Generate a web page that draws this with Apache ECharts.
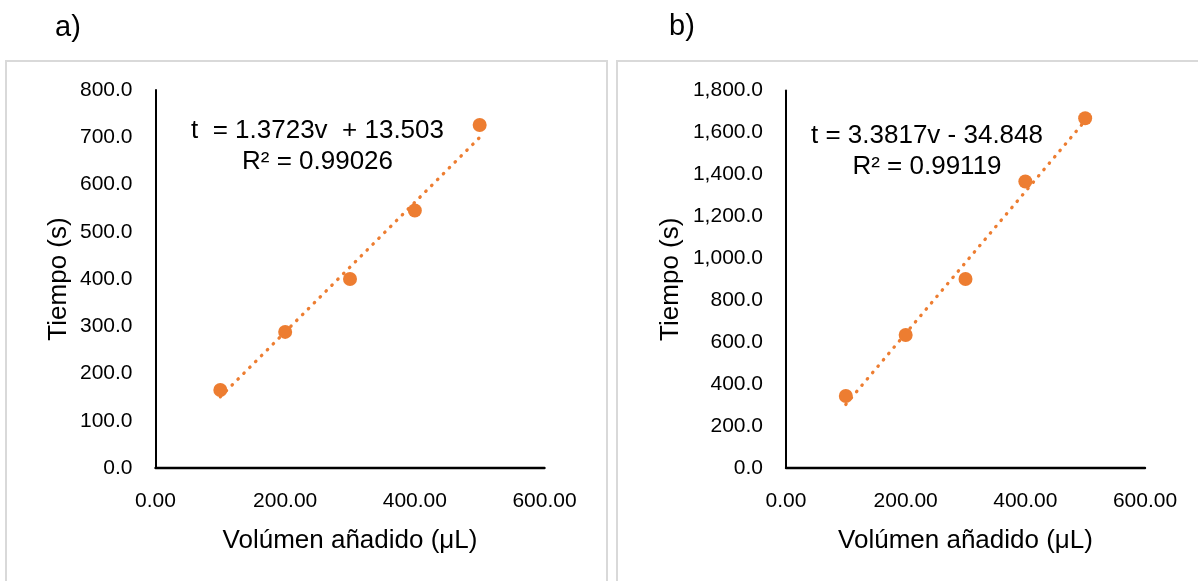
<!DOCTYPE html>
<html>
<head>
<meta charset="utf-8">
<title>Tiempo vs volumen añadido</title>
<script src="https://cdn.jsdelivr.net/npm/echarts@6/dist/echarts.min.js"></script>
<style>
  html, body { margin: 0; padding: 0; background: #ffffff; }
  #chart { width: 1198px; height: 581px; }
</style>
</head>
<body>
<div id="chart"></div>
<script>
// Volumes added (µL) shared by both experiments
const volumes = [100, 200, 300, 400, 500];

// Measured times (s), experiment a) and b)
const tiemposA = [165, 288, 400, 545, 726];
const tiemposB = [343, 634, 901, 1366, 1668];

// Linear fits t = m·v + b and their R²
const fitA = { slope: 1.3723, intercept: 13.503, r2: '0.99026' };
const fitB = { slope: 3.3817, intercept: -34.848, r2: '0.99119' };

// Axis ranges and tick steps
const xAxisRange = [0, 600, 200];
const yRangeA = [0, 800, 100];
const yRangeB = [0, 1800, 200];

const panelLabels = ['a)', 'b)'];
const xTitle = 'Volúmen añadido (\u03BCL)';
const yTitle = 'Tiempo (s)';

const ORANGE = '#ED7D31';
const FONT = '"Liberation Sans", Arial, sans-serif';

function fitLine(fit) {
  const x0 = volumes[0], x1 = volumes[volumes.length - 1];
  return [[x0, fit.slope * x0 + fit.intercept], [x1, fit.slope * x1 + fit.intercept]];
}

function eqText(fit, spaced) {
  const sign = fit.intercept < 0 ? '-' : '+';
  const gap = spaced ? '  ' : ' ';
  return 't' + gap + '= ' + fit.slope + 'v' + gap + sign + ' ' + Math.abs(fit.intercept) +
         '\nR\u00B2 = ' + fit.r2;
}

const fmt1 = v => v.toLocaleString('en-US', { minimumFractionDigits: 1, maximumFractionDigits: 1 });
const fmt2 = v => v.toFixed(2);

function xAxisFor(gridIndex) {
  return {
    type: 'value', gridIndex,
    min: xAxisRange[0], max: xAxisRange[1], interval: xAxisRange[2],
    name: xTitle, nameLocation: 'middle', nameGap: 60,
    nameTextStyle: { fontFamily: FONT, fontSize: 26, color: '#000' },
    axisLine: { show: true, onZero: false, lineStyle: { color: '#000', width: 2.4 } },
    axisTick: { show: false },
    splitLine: { show: false },
    axisLabel: { formatter: fmt2, margin: 23, fontFamily: FONT, fontSize: 21, color: '#000' }
  };
}

function yAxisFor(gridIndex, range, gap) {
  return {
    type: 'value', gridIndex,
    min: range[0], max: range[1], interval: range[2],
    name: yTitle, nameLocation: 'middle', nameGap: gap,
    nameTextStyle: { fontFamily: FONT, fontSize: 26, color: '#000' },
    axisLine: { show: true, lineStyle: { color: '#000', width: 2 } },
    axisTick: { show: false },
    splitLine: { show: false },
    axisLabel: { formatter: fmt1, margin: 23, fontFamily: FONT, fontSize: 21, color: '#000' }
  };
}

function pointsFor(values) {
  return volumes.map((v, i) => [v, values[i]]);
}

const chart = echarts.init(document.getElementById('chart'), null, { renderer: 'canvas' });

const trendStyle = { color: ORANGE, width: 3.3, cap: 'round', type: [0.5, 7.8], opacity: 1 };
const markerStyle = { color: ORANGE, opacity: 1 };

chart.setOption({
  backgroundColor: '#ffffff',
  animation: false,
  grid: [
    { left: 155.5, top: 90, width: 389, height: 378 },
    { left: 786, top: 90.5, width: 359, height: 377.5 }
  ],
  xAxis: [xAxisFor(0), xAxisFor(1)],
  yAxis: [yAxisFor(0, yRangeA, 84), yAxisFor(1, yRangeB, 102)],
  series: [
    {
      type: 'line', xAxisIndex: 0, yAxisIndex: 0, data: fitLine(fitA),
      showSymbol: false, silent: true, z: 2, lineStyle: trendStyle
    },
    {
      type: 'scatter', xAxisIndex: 0, yAxisIndex: 0, data: pointsFor(tiemposA),
      symbol: 'circle', symbolSize: 14, itemStyle: markerStyle, z: 3
    },
    {
      type: 'line', xAxisIndex: 1, yAxisIndex: 1, data: fitLine(fitB),
      showSymbol: false, silent: true, z: 2, lineStyle: trendStyle
    },
    {
      type: 'scatter', xAxisIndex: 1, yAxisIndex: 1, data: pointsFor(tiemposB),
      symbol: 'circle', symbolSize: 14, itemStyle: markerStyle, z: 3
    }
  ],
  graphic: [
    // panel frames
    { type: 'rect', shape: { x: 6, y: 61, width: 601, height: 560 }, z: 0,
      style: { fill: 'none', stroke: '#d9d9d9', lineWidth: 2 } },
    { type: 'rect', shape: { x: 617, y: 61, width: 620, height: 560 }, z: 0,
      style: { fill: 'none', stroke: '#d9d9d9', lineWidth: 2 } },
    // panel letters
    { type: 'text', left: 55, top: 13, z: 10,
      style: { text: panelLabels[0], font: '29px ' + FONT, fill: '#000' } },
    { type: 'text', left: 669, top: 12, z: 10,
      style: { text: panelLabels[1], font: '29px ' + FONT, fill: '#000' } },
    // regression equations
    { type: 'text', x: 317.5, y: 115, z: 10,
      style: { text: eqText(fitA, true), font: '26px ' + FONT, fill: '#000',
               align: 'center', verticalAlign: 'top', lineHeight: 31 } },
    { type: 'text', x: 927, y: 120, z: 10,
      style: { text: eqText(fitB, false), font: '26px ' + FONT, fill: '#000',
               align: 'center', verticalAlign: 'top', lineHeight: 31 } }
  ]
});
</script>
</body>
</html>
